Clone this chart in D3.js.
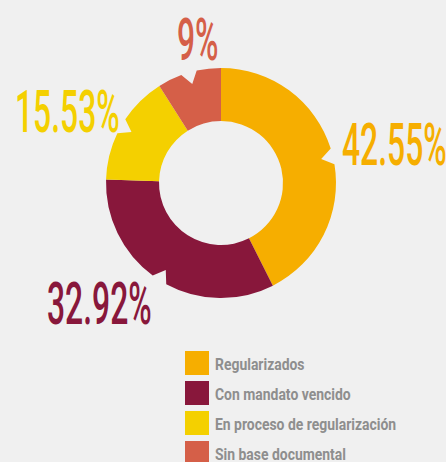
<!DOCTYPE html>
<html>
<head>
<meta charset="utf-8">
<script src="https://cdn.jsdelivr.net/npm/d3@7"></script>
<style>
  body { margin: 0; background: #f0f0f0; }
  svg { display: block; }
</style>
</head>
<body>
<script>
// data
var categories = ["Regularizados", "Con mandato vencido", "En proceso de regularización", "Sin base documental"];
var values = [42.55, 32.92, 15.53, 9];
var valueLabels = ["42.55%", "32.92%", "15.53%", "9%"];
var colors = ["#f6ae00", "#88173b", "#f4d000", "#d55f48"];

var width = 446, height = 462,
    cx = 221, cy = 183,
    outerR = 115, innerR = 62,
    notchDepth = 12, notchHalf = 4 * Math.PI / 180;

// where each big number sits (left x, baseline y)
var labelPos = [[342, 165], [47, 324], [15, 132], [177, 60]];

var svg = d3.select("body").append("svg")
    .attr("width", width)
    .attr("height", height);

svg.append("rect").attr("width", width).attr("height", height).attr("fill", "#f0f0f0");

var pie = d3.pie().sort(null).value(function(d){ return d; });
var arcs = pie(values);

// donut slice with a small V notch in the outer edge
function slicePath(d) {
  var a0 = d.startAngle - Math.PI / 2,
      a1 = d.endAngle - Math.PI / 2,
      m = (a0 + a1) / 2,
      p = d3.path();
  p.moveTo(cx + outerR * Math.cos(a0), cy + outerR * Math.sin(a0));
  p.arc(cx, cy, outerR, a0, m - notchHalf);
  p.lineTo(cx + (outerR - notchDepth) * Math.cos(m), cy + (outerR - notchDepth) * Math.sin(m));
  p.lineTo(cx + outerR * Math.cos(m + notchHalf), cy + outerR * Math.sin(m + notchHalf));
  p.arc(cx, cy, outerR, m + notchHalf, a1);
  p.lineTo(cx + innerR * Math.cos(a1), cy + innerR * Math.sin(a1));
  p.arc(cx, cy, innerR, a1, a0, true);
  p.closePath();
  return p.toString();
}

svg.selectAll(".slice")
    .data(arcs)
  .enter().append("path")
    .attr("class", "slice")
    .attr("d", slicePath)
    .attr("fill", function(d, i){ return colors[i]; });

svg.selectAll(".pct")
    .data(arcs)
  .enter().append("text")
    .attr("class", "pct")
    .attr("transform", function(d, i){ return "translate(" + labelPos[i][0] + "," + labelPos[i][1] + ") scale(0.54,1)"; })
    .attr("fill", function(d, i){ return colors[i]; })
    .style("font-family", "Roboto, sans-serif")
    .style("font-weight", 500)
    .style("font-size", "59px")
    .text(function(d, i){ return valueLabels[i]; });

// legend
var legend = svg.selectAll(".legend")
    .data(categories)
  .enter().append("g")
    .attr("class", "legend")
    .attr("transform", function(d, i){ return "translate(185," + (351 + i * 30) + ")"; });

legend.append("rect")
    .attr("width", 24)
    .attr("height", 24)
    .attr("fill", function(d, i){ return colors[i]; });

legend.append("text")
    .attr("transform", "translate(30,19) scale(0.82,1)")
    .attr("fill", "#8e8e8e")
    .style("font-family", "Roboto, sans-serif")
    .style("font-weight", 700)
    .style("font-size", "17px")
    .text(function(d){ return d; });
</script>
</body>
</html>
